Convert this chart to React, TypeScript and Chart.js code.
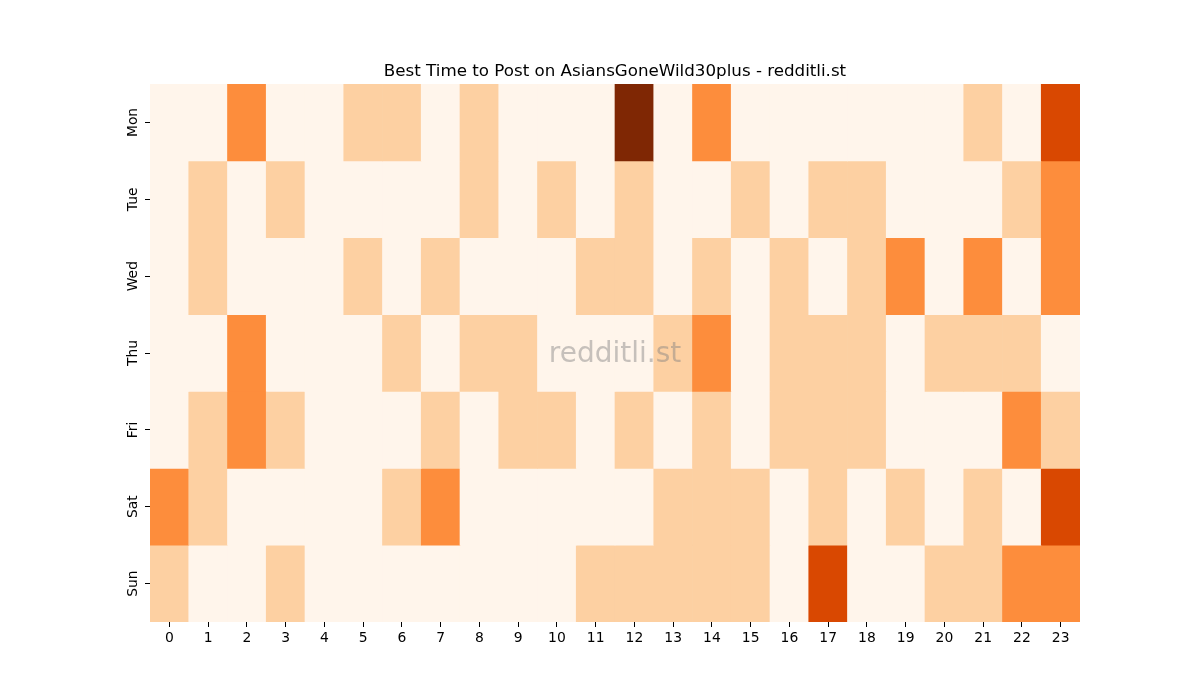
import React, { useEffect, useRef } from "react";
import { Chart, registerables } from "chart.js";

Chart.register(...registerables);

const hours = ["0","1","2","3","4","5","6","7","8","9","10","11","12","13","14","15","16","17","18","19","20","21","22","23"];
const days = ["Mon", "Tue", "Wed", "Thu", "Fri", "Sat", "Sun"];

const mon = [0,0,2,0,0,1,1,0,1,0,0,0,4,0,2,0,0,0,0,0,0,1,0,3];
const tue = [0,1,0,1,0,0,0,0,1,0,1,0,1,0,0,1,0,1,1,0,0,0,1,2];
const wed = [0,1,0,0,0,1,0,1,0,0,0,1,1,0,1,0,1,0,1,2,0,2,0,2];
const thu = [0,0,2,0,0,0,1,0,1,1,0,0,0,1,2,0,1,1,1,0,1,1,1,0];
const fri = [0,1,2,1,0,0,0,1,0,1,1,0,1,0,1,0,1,1,1,0,0,0,2,1];
const sat = [2,1,0,0,0,0,1,2,0,0,0,0,0,1,1,1,0,1,0,1,0,1,0,3];
const sun = [1,0,0,1,0,0,0,0,0,0,0,1,1,1,1,1,0,3,0,0,1,1,2,2];

const rows = [mon, tue, wed, thu, fri, sat, sun];
const palette = ["#fff5eb", "#fdd0a2", "#fd8d3c", "#d94801", "#7f2704"];

const titleText = "Best Time to Post on AsiansGoneWild30plus - redditli.st";
const watermark = "redditli.st";

const FONT = "'DejaVu Sans', sans-serif";

export default function App() {
  const ref = useRef<HTMLCanvasElement>(null);
  useEffect(() => {
    if (!ref.current) return;
    const datasets = rows.map((row, i) => ({
      label: days[i],
      data: row.map(() => [i, i + 1]),
      backgroundColor: row.map((v) => palette[v]),
      borderWidth: 0,
      barPercentage: 1,
      categoryPercentage: 1,
      grouped: false,
    }));
    const wm = {
      id: "wm",
      afterDatasetsDraw(chart: any) {
        const { ctx, chartArea } = chart;
        ctx.save();
        ctx.font = `28px ${FONT}`;
        ctx.fillStyle = "rgba(128,128,128,0.45)";
        ctx.textAlign = "center";
        ctx.textBaseline = "middle";
        ctx.fillText(watermark, (chartArea.left + chartArea.right) / 2, (chartArea.top + chartArea.bottom) / 2 + 2);
        ctx.restore();
      },
    };
    const chart = new Chart(ref.current, {
      type: "bar",
      data: { labels: hours, datasets: datasets as any },
      plugins: [wm],
      options: {
        animation: false,
        responsive: false,
        maintainAspectRatio: false,
        layout: { padding: { left: 120, right: 90, top: 62, bottom: 0 } },
        plugins: {
          legend: { display: false },
          tooltip: { enabled: false },
          title: {
            display: true,
            text: titleText,
            color: "#000",
            font: { family: FONT, size: 16.7, weight: "normal" },
            padding: { top: 0, bottom: 2 },
          },
        },
        scales: {
          x: {
            type: "category",
            offset: true,
            border: { display: false },
            grid: { display: true, offset: false, drawOnChartArea: false, drawTicks: true, tickLength: 5, tickColor: "#000", lineWidth: 1 },
            ticks: { color: "#000", font: { family: FONT, size: 13.9 }, padding: 3, maxRotation: 0, autoSkip: false },
            afterFit: (s: any) => { s.height = 78; },
          },
          y: {
            type: "linear",
            position: "left",
            min: 0,
            max: 7,
            reverse: true,
            border: { display: false },
            grid: { display: true, drawOnChartArea: false, drawTicks: true, tickLength: 5, tickColor: "#000", lineWidth: 1 },
            afterBuildTicks: (s: any) => { s.ticks = days.map((_, i) => ({ value: i + 0.5 })); },
            ticks: {
              color: "#000",
              font: { family: FONT, size: 13.9 },
              minRotation: 90,
              maxRotation: 90,
              crossAlign: "center",
              padding: -4,
              callback: (v: any) => days[Math.floor(Number(v))],
            },
            afterFit: (s: any) => { s.width = 30; },
          },
          yRight: {
            type: "linear",
            position: "right",
            display: true,
            min: 0,
            max: 7,
            border: { display: false },
            grid: { display: false, drawTicks: false },
            ticks: { display: false },
            afterFit: (s: any) => { s.width = 30; },
          },
        },
      } as any,
    });
    return () => chart.destroy();
  }, []);
  return (
    <div style={{ position: "fixed", left: 0, top: 0, width: 1200, height: 700, background: "#fff" }}>
      <canvas ref={ref} width={1200} height={700} style={{ width: 1200, height: 700 }} />
    </div>
  );
}
